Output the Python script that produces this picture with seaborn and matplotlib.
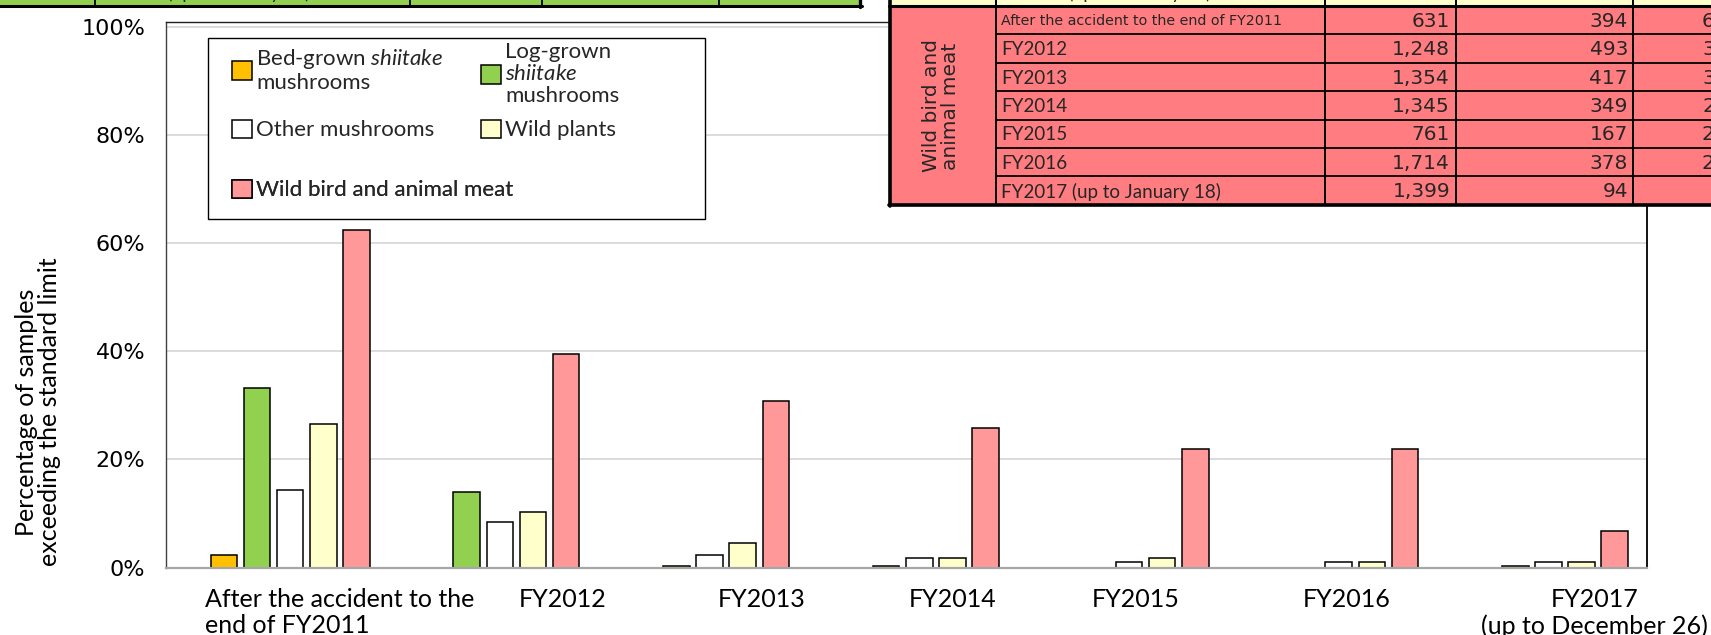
"""Share of food samples exceeding the radioactive caesium standard limit, by fiscal year."""

import matplotlib

matplotlib.use("Agg")
import matplotlib.pyplot as plt
import matplotlib.patches as mpatches
import numpy as np
import pandas as pd
import seaborn as sns

W, H = 1711, 635

# ---- chart data (percent of samples exceeding the limit) ----
periods = [
    "After the accident to the\nend of FY2011",
    "FY2012",
    "FY2013",
    "FY2014",
    "FY2015",
    "FY2016",
    "FY2017\n(up to December 26)",
]
series_names = [
    "Bed-grown shiitake mushrooms",
    "Log-grown shiitake mushrooms",
    "Other mushrooms",
    "Wild plants",
    "Wild bird and animal meat",
]
legend_labels = [
    "Bed-grown $\\it{shiitake}$\nmushrooms",
    "Log-grown\n$\\it{shiitake}$\nmushrooms",
    "Other mushrooms",
    "Wild plants",
    "Wild bird and animal meat",
]
bed_grown = [2.4, np.nan, np.nan, np.nan, np.nan, np.nan, np.nan]
log_grown = [33.3, 13.9, 0.3, 0.3, np.nan, np.nan, 0.3]
other_mushrooms = [14.3, 8.5, 2.4, 1.7, 1.0, 1.0, 1.0]
wild_plants = [26.6, 10.2, 4.5, 1.7, 1.7, 1.0, 1.0]
wild_meat = [62.4, 39.5, 30.8, 25.9, 21.9, 22.0, 6.8]
bar_colors = ["#ffc000", "#92d050", "#ffffff", "#ffffcc", "#ff9999"]

# ---- inset table data (wild bird and animal meat) ----
table_rows = [
    "After the accident to the end of FY2011",
    "FY2012",
    "FY2013",
    "FY2014",
    "FY2015",
    "FY2016",
    "FY2017 (up to January 18)",
]
samples_tested = [631, 1248, 1354, 1345, 761, 1714, 1399]
samples_over = [394, 493, 417, 349, 167, 378, 94]
share_over = ["62.4%", "39.5%", "30.8%", "25.9%", "21.9%", "22.1%", "6.7%"]

df = pd.DataFrame(
    {
        "period": np.repeat(periods, len(series_names)),
        "series": series_names * len(periods),
        "value": np.column_stack(
            [bed_grown, log_grown, other_mushrooms, wild_plants, wild_meat]
        ).ravel(),
    }
)

sns.set_theme(style="white")
plt.rcParams["font.family"] = ["DejaVu Sans"]
plt.rcParams["mathtext.fontset"] = "custom"
plt.rcParams["mathtext.rm"] = "Lato"
plt.rcParams["mathtext.it"] = "Lato:italic"

CAL = ["Lato", "DejaVu Sans"]

fig = plt.figure(figsize=(W / 100, H / 100), dpi=100, facecolor="white")
ax = fig.add_axes([166 / W, (H - 567.5) / H, 1481 / W, 545.5 / H])

sns.barplot(
    data=df,
    x="period",
    y="value",
    hue="series",
    order=periods,
    hue_order=series_names,
    palette=bar_colors,
    saturation=1,
    width=0.79,
    gap=0.2,
    edgecolor="black",
    linewidth=1.1,
    errorbar=None,
    legend=False,
    ax=ax,
)

ax.set_xlim(-0.592, 6.47)
ax.set_ylim(0, 101)
ax.set_axisbelow(True)
ax.yaxis.grid(True, color="#d9d9d9", lw=1.3)
ax.set_yticks(range(0, 101, 20), [f"{v}%" for v in range(0, 101, 20)])
ax.tick_params(axis="y", length=0, pad=15, labelsize=16, labelcolor="black")

label_shift = [-0.406, 0.30, 0.25, 0.16, 0.03, 0.04, 0.22]
ax.set_xticks(np.arange(len(periods)) + np.array(label_shift), periods)
ax.tick_params(axis="x", length=0, pad=15)
for i, lab in enumerate(ax.get_xticklabels()):
    lab.set_fontfamily(CAL)
    lab.set_fontsize(18)
    lab.set_linespacing(1.15)
    lab.set_color("black")
    if i == 0:
        lab.set_ha("left")
ax.set_xlabel("")
ax.set_ylabel(
    "Percentage of samples\nexceeding the standard limit",
    fontfamily=CAL,
    fontsize=18,
    linespacing=1.0,
    color="black",
    va="center",
)
ax.yaxis.set_label_coords(-0.0865, 0.285)

for side, color, lw in [("left", "#404040", 1.0), ("bottom", "#a6a6a6", 1.6),
                        ("top", "#202020", 1.0), ("right", "black", 1.3)]:
    ax.spines[side].set_visible(True)
    ax.spines[side].set_color(color)
    ax.spines[side].set_linewidth(lw)

# pixel transform: (x from left, y from top)
px = matplotlib.transforms.Affine2D().scale(1 / W, -1 / H).translate(0, 1) + fig.transFigure

# legend frame and entries
ax.add_patch(mpatches.Rectangle((208, 38), 497, 181, transform=px, fc="white",
                                ec="black", lw=1.0, clip_on=False, zorder=4))
legend_pos = [(232, 70), (481, 74), (232, 130), (481, 130), (232, 190)]
for k, (lx, ly) in enumerate(legend_pos):
    handle = ax.containers[k].patches[0]
    leg = ax.legend([handle], [legend_labels[k]], loc="center left",
                    bbox_to_anchor=(lx / W, 1 - ly / H), bbox_transform=fig.transFigure,
                    frameon=False, borderpad=0, borderaxespad=0, handlelength=0.9,
                    handleheight=0.9, handletextpad=0.18,
                    prop={"family": CAL, "size": 16})
    for t in leg.get_texts():
        t.set_linespacing(1.1)
    leg.set_zorder(5)
    ax.add_artist(leg)

# ---- overlay with the cropped tables ----
ov = fig.add_axes([0, 0, 1, 1])
ov.set_xlim(0, W)
ov.set_ylim(H, 0)
ov.axis("off")
ov.set_zorder(6)

# green table fragment (top left)
ov.add_patch(mpatches.Rectangle((-5, -5), 867, 10, fc="#92d050", ec="none"))
ov.plot([-5, 862], [5.5, 5.5], color="black", lw=2.2)
for cx in [95, 410, 542, 719]:
    ov.plot([cx, cx], [-5, 5.5], color="black", lw=1.3)
ov.plot([860.5, 860.5], [-5, 7], color="black", lw=2.4)
ov.text(100, -1, table_rows[-1], fontfamily=CAL, fontsize=13, va="baseline")

# pink table fragment (top right)
x_cols = [890, 996, 1325, 1456, 1633]
y_top, row_h = 6, 28.4
y_bot = y_top + row_h * len(table_rows)
ov.add_patch(mpatches.Rectangle((889, -5), 900, 11, fc="#ffffcc", ec="none"))
ov.add_patch(mpatches.Rectangle((889, y_top), 900, y_bot - y_top, fc="#ff7c80", ec="none"))
ov.text(1001, -1, table_rows[-1], fontfamily=CAL, fontsize=13, va="baseline")
for i in range(1, len(table_rows)):
    yy = y_top + row_h * i
    ov.plot([x_cols[1], 1800], [yy, yy], color="black", lw=1.3)
ov.plot([889, 1800], [y_top, y_top], color="black", lw=2.2)
for cx in x_cols[1:]:
    ov.plot([cx, cx], [-5, y_bot], color="black", lw=1.4)
ov.plot([x_cols[0], x_cols[0]], [-5, y_bot + 1], color="black", lw=2.6)
ov.plot([889, 1800], [y_bot, y_bot], color="black", lw=2.6)
ov.text(941, 106, "Wild bird and\nanimal meat", rotation=90,
        ha="center", va="center", fontsize=14.5, color="#262626", linespacing=1.05)

for i, name in enumerate(table_rows):
    yc = y_top + row_h * i + row_h / 2 + 1
    if i == 0:
        ov.text(1001, yc, name, fontsize=10.3, ha="left", va="center", color="#262626")
    else:
        ov.text(1001, yc, name, fontfamily=CAL, fontsize=13.5, ha="left", va="center")
    ov.text(x_cols[3] - 6, yc, f"{samples_tested[i]:,}", fontsize=14.5,
            ha="right", va="center", color="#262626")
    ov.text(x_cols[4] - 5, yc, f"{samples_over[i]:,}", fontsize=14.5,
            ha="right", va="center", color="#262626")
    ov.text(1766, yc, share_over[i], fontsize=14.5, ha="right", va="center",
            color="#262626")

fig.savefig("out.png", dpi=100, facecolor="white")
